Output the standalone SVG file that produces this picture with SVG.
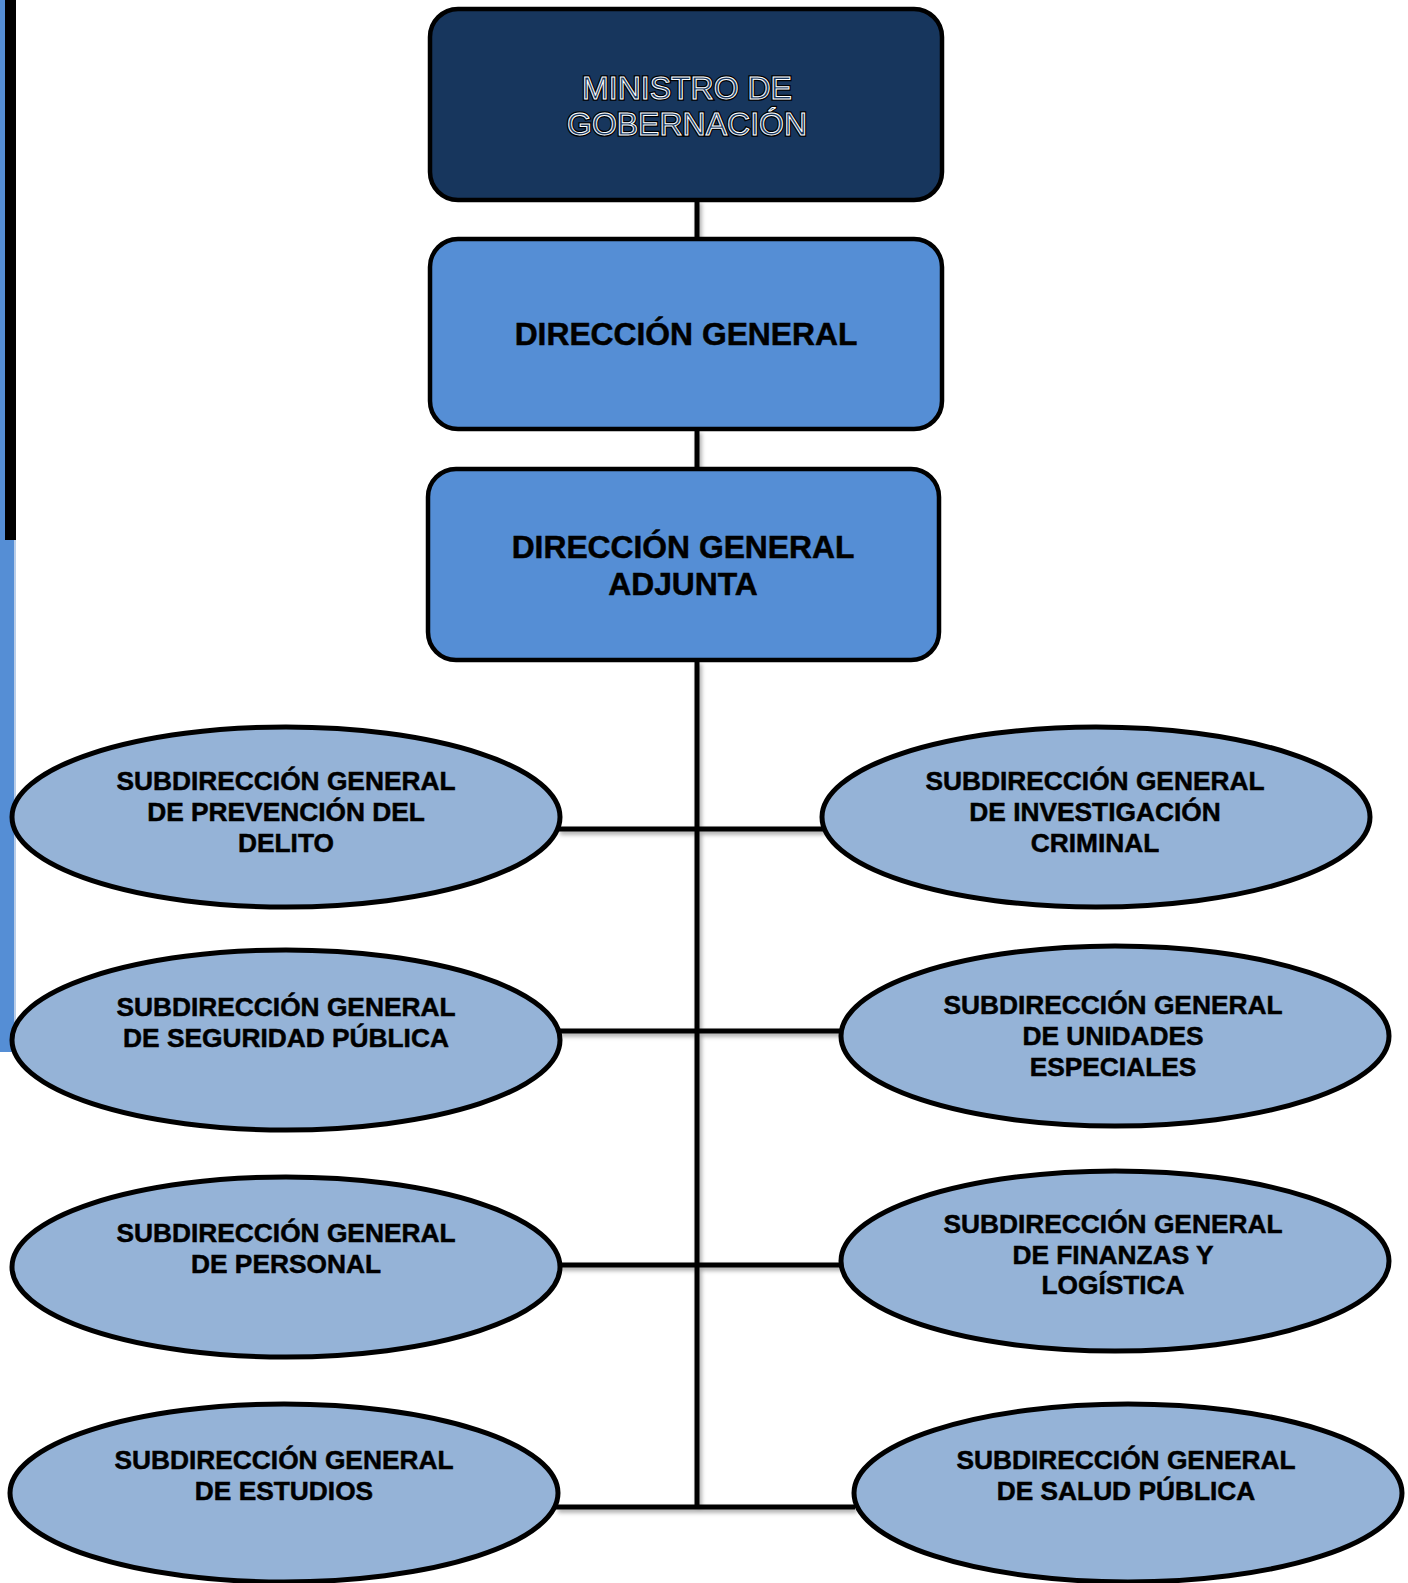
<svg xmlns="http://www.w3.org/2000/svg" width="1408" height="1583" viewBox="0 0 1408 1583">
<style>
.box{stroke:#000;stroke-width:4.5}
.dark{fill:#17365d}
.mid{fill:#558ed5}
.ell{fill:#95b3d7;stroke:#000;stroke-width:5}
.t{font-family:"Liberation Sans",Arial,sans-serif;font-weight:bold;font-size:26.3px;fill:#000;stroke:#000;stroke-width:0.5;text-anchor:middle}
.tb{font-family:"Liberation Sans",Arial,sans-serif;font-weight:bold;font-size:31.8px;fill:#000;stroke:#000;stroke-width:0.5;text-anchor:middle}
.tm{font-family:"Liberation Sans",Arial,sans-serif;font-size:32px;text-anchor:middle}
.conn{stroke:#000;stroke-width:5;fill:none}
</style>
<defs>
<filter id="sh" x="-5%" y="-5%" width="110%" height="110%">
<feDropShadow dx="2" dy="3" stdDeviation="2" flood-color="#000" flood-opacity="0.35"/>
</filter>
</defs>
<rect x="0" y="0" width="1408" height="1583" fill="#fff"/>
<g id="sidebar">
<rect x="0" y="0" width="5" height="540" fill="#558ed5"/>
<rect x="5" y="0" width="11" height="540" fill="#000"/>
<rect x="0" y="540" width="14" height="512" fill="#558ed5"/>
<rect x="14" y="540" width="2" height="512" fill="#b9cde8"/>
</g>
<g id="connectors" filter="url(#sh)">
<line class="conn" x1="697" y1="200" x2="697" y2="239"/>
<line class="conn" x1="697" y1="430" x2="697" y2="469"/>
<line class="conn" x1="697" y1="661" x2="697" y2="1507"/>
<line class="conn" x1="558" y1="829" x2="824" y2="829"/>
<line class="conn" x1="558" y1="1031" x2="842" y2="1031"/>
<line class="conn" x1="558" y1="1265" x2="842" y2="1265"/>
<line class="conn" x1="556" y1="1507" x2="855" y2="1507"/>
</g>
<g id="ministro">
<rect class="box dark" x="430" y="9" width="512" height="191" rx="28"/>
<text class="tm" x="687" y="99" fill="#17365d" stroke="#000" stroke-width="3.5">MINISTRO DE</text>
<text class="tm" x="687" y="135" fill="#17365d" stroke="#000" stroke-width="3.5">GOBERNACIÓN</text>
<text class="tm" x="687" y="99" fill="#17365d" stroke="#fff" stroke-width="1">MINISTRO DE</text>
<text class="tm" x="687" y="135" fill="#17365d" stroke="#fff" stroke-width="1">GOBERNACIÓN</text>
</g>
<g id="direccion-general">
<rect class="box mid" x="430" y="239" width="512" height="190" rx="28"/>
<text class="tb" x="686" y="345">DIRECCIÓN GENERAL</text>
</g>
<g id="direccion-adjunta">
<rect class="box mid" x="428" y="469" width="511" height="191" rx="28"/>
<text class="tb" x="683" y="558">DIRECCIÓN GENERAL</text>
<text class="tb" x="683" y="595">ADJUNTA</text>
</g>
<g id="sg-prevencion">
<ellipse class="ell" cx="286" cy="817" rx="274" ry="90"/>
<text class="t" x="286" y="790">SUBDIRECCIÓN GENERAL</text>
<text class="t" x="286" y="821">DE PREVENCIÓN DEL</text>
<text class="t" x="286" y="852">DELITO</text>
</g>
<g id="sg-investigacion">
<ellipse class="ell" cx="1096" cy="817" rx="274" ry="90"/>
<text class="t" x="1095" y="790">SUBDIRECCIÓN GENERAL</text>
<text class="t" x="1095" y="821">DE INVESTIGACIÓN</text>
<text class="t" x="1095" y="852">CRIMINAL</text>
</g>
<g id="sg-seguridad">
<ellipse class="ell" cx="286" cy="1040" rx="274" ry="90"/>
<text class="t" x="286" y="1016">SUBDIRECCIÓN GENERAL</text>
<text class="t" x="286" y="1047">DE SEGURIDAD PÚBLICA</text>
</g>
<g id="sg-unidades">
<ellipse class="ell" cx="1115" cy="1036" rx="274" ry="90"/>
<text class="t" x="1113" y="1014">SUBDIRECCIÓN GENERAL</text>
<text class="t" x="1113" y="1045">DE UNIDADES</text>
<text class="t" x="1113" y="1076">ESPECIALES</text>
</g>
<g id="sg-personal">
<ellipse class="ell" cx="286" cy="1267" rx="274" ry="90"/>
<text class="t" x="286" y="1242">SUBDIRECCIÓN GENERAL</text>
<text class="t" x="286" y="1273">DE PERSONAL</text>
</g>
<g id="sg-finanzas">
<ellipse class="ell" cx="1115" cy="1261" rx="274" ry="90"/>
<text class="t" x="1113" y="1233">SUBDIRECCIÓN GENERAL</text>
<text class="t" x="1113" y="1264">DE FINANZAS Y</text>
<text class="t" x="1113" y="1294">LOGÍSTICA</text>
</g>
<g id="sg-estudios">
<ellipse class="ell" cx="284" cy="1493" rx="274" ry="89"/>
<text class="t" x="284" y="1469">SUBDIRECCIÓN GENERAL</text>
<text class="t" x="284" y="1500">DE ESTUDIOS</text>
</g>
<g id="sg-salud">
<ellipse class="ell" cx="1128" cy="1493" rx="274" ry="89"/>
<text class="t" x="1126" y="1469">SUBDIRECCIÓN GENERAL</text>
<text class="t" x="1126" y="1500">DE SALUD PÚBLICA</text>
</g>
</svg>
